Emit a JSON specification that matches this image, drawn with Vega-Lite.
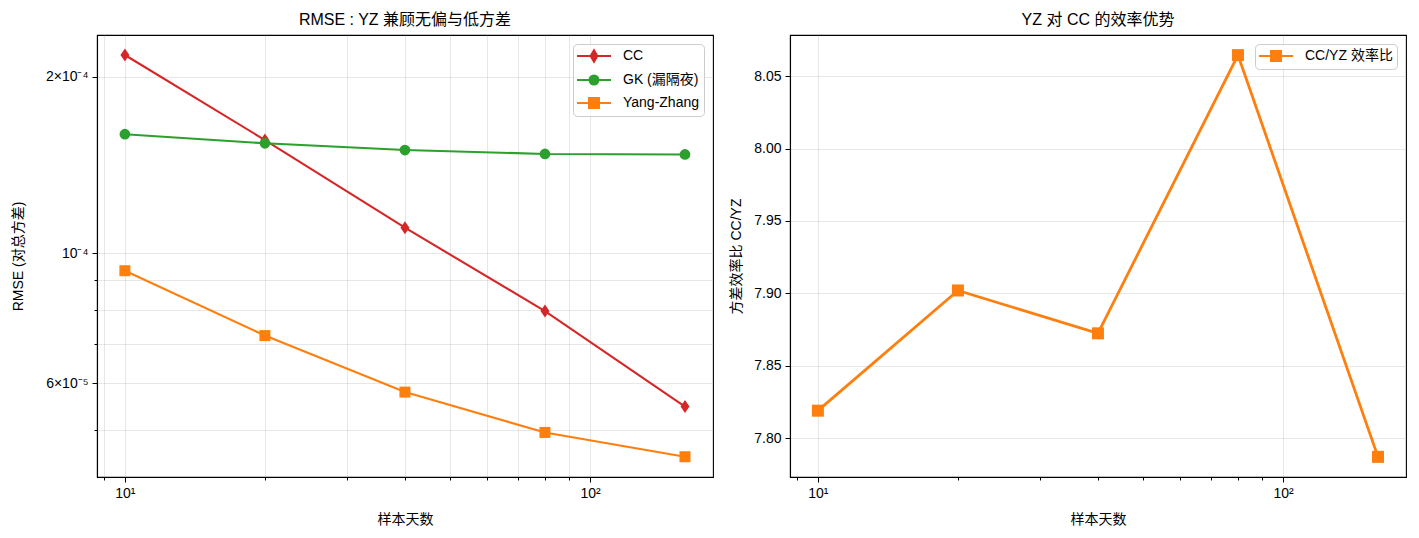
{
  "$schema": "https://vega.github.io/schema/vega-lite/v6.json",
  "background": "white",
  "padding": {"left": 10, "top": 11, "right": 5, "bottom": 5},
  "datasets": {
    "rmse": [
      {"n": 10, "method": "CC", "rmse": 0.0002178},
      {"n": 20, "method": "CC", "rmse": 0.000156},
      {"n": 40, "method": "CC", "rmse": 0.0001106},
      {"n": 80, "method": "CC", "rmse": 0.0000797},
      {"n": 160, "method": "CC", "rmse": 0.0000548},
      {"n": 10, "method": "GK (漏隔夜)", "rmse": 0.0001596},
      {"n": 20, "method": "GK (漏隔夜)", "rmse": 0.000154},
      {"n": 40, "method": "GK (漏隔夜)", "rmse": 0.00015},
      {"n": 80, "method": "GK (漏隔夜)", "rmse": 0.0001477},
      {"n": 160, "method": "GK (漏隔夜)", "rmse": 0.0001474},
      {"n": 10, "method": "Yang-Zhang", "rmse": 0.0000934},
      {"n": 20, "method": "Yang-Zhang", "rmse": 0.0000724},
      {"n": 40, "method": "Yang-Zhang", "rmse": 0.000058},
      {"n": 80, "method": "Yang-Zhang", "rmse": 0.0000495},
      {"n": 160, "method": "Yang-Zhang", "rmse": 0.000045}
    ],
    "ratio": [
      {"n": 10, "series": "CC/YZ 效率比", "ratio": 7.819},
      {"n": 20, "series": "CC/YZ 效率比", "ratio": 7.902},
      {"n": 40, "series": "CC/YZ 效率比", "ratio": 7.8724},
      {"n": 80, "series": "CC/YZ 效率比", "ratio": 8.0645},
      {"n": 160, "series": "CC/YZ 效率比", "ratio": 7.7871}
    ]
  },
  "spacing": 14,
  "hconcat": [
    {
      "width": 616,
      "height": 442,
      "title": {"text": "RMSE : YZ 兼顾无偏与低方差"},
      "data": {"name": "rmse"},
      "layer": [
        {
          "transform": [{"filter": "datum.method == 'CC'"}],
          "mark": {"type": "line", "strokeWidth": 2.1, "color": "#d62728"},
          "encoding": {
            "x": {"field": "n", "type": "quantitative",
              "scale": {"type": "log", "domain": [8.71, 183.8], "nice": false},
              "axis": {"orient": "bottom", "values": [10, 100], "labelExpr": "datum.value < 50 ? '10¹' : '10²'", "title": "样本天数", "grid": true, "tickSize": 5, "labelPadding": 4, "titlePadding": 12}},
            "y": {"field": "rmse", "type": "quantitative",
              "scale": {"type": "log", "domain": [0.00004156, 0.0002356], "nice": false},
              "axis": {"orient": "left", "values": [0.0001, 0.0002, 0.00006], "labelExpr": "datum.value > 0.00015 ? '2×10⁻⁴' : datum.value > 0.00008 ? '10⁻⁴' : '6×10⁻⁵'", "title": "RMSE (对总方差)", "grid": true, "tickSize": 5, "labelPadding": 4, "minExtent": 62, "titlePadding": 10}}
          }
        },
        {
          "transform": [{"filter": "datum.method == 'GK (漏隔夜)'"}],
          "mark": {"type": "line", "strokeWidth": 2.1, "color": "#2ca02c"},
          "encoding": {
            "x": {"field": "n", "type": "quantitative", "axis": null},
            "y": {"field": "rmse", "type": "quantitative", "axis": null}
          }
        },
        {
          "transform": [{"filter": "datum.method == 'Yang-Zhang'"}],
          "mark": {"type": "line", "strokeWidth": 2.1, "color": "#ff7f0e"},
          "encoding": {
            "x": {"field": "n", "type": "quantitative", "axis": null},
            "y": {"field": "rmse", "type": "quantitative", "axis": null}
          }
        },
        {
          "transform": [{"filter": "datum.method == 'CC'"}],
          "mark": {"type": "point", "filled": true, "opacity": 1, "size": 169, "shape": "M0,-1L0.69,0L0,1L-0.69,0Z", "color": "#d62728"},
          "encoding": {
            "x": {"field": "n", "type": "quantitative",
              "axis": {"orient": "bottom", "values": [9, 20, 30, 40, 50, 60, 70, 80, 90], "labels": false, "title": null, "grid": true, "tickSize": 3, "domain": false}},
            "y": {"field": "rmse", "type": "quantitative",
              "axis": {"orient": "left", "values": [0.00005, 0.00007, 0.00008, 0.00009], "labels": false, "title": null, "grid": true, "tickSize": 3, "domain": false}}
          }
        },
        {
          "transform": [{"filter": "datum.method == 'GK (漏隔夜)'"}],
          "mark": {"type": "point", "filled": true, "opacity": 1, "size": 115, "shape": "circle", "color": "#2ca02c"},
          "encoding": {
            "x": {"field": "n", "type": "quantitative", "axis": null},
            "y": {"field": "rmse", "type": "quantitative", "axis": null}
          }
        },
        {
          "transform": [{"filter": "datum.method == 'Yang-Zhang'"}],
          "mark": {"type": "point", "filled": true, "opacity": 1, "size": 121, "shape": "square", "color": "#ff7f0e"},
          "encoding": {
            "x": {"field": "n", "type": "quantitative", "axis": null},
            "y": {"field": "rmse", "type": "quantitative", "axis": null}
          }
        },
        {
          "transform": [{"filter": "false"}],
          "mark": {"type": "point", "filled": true, "opacity": 1, "strokeWidth": 2},
          "encoding": {
            "x": {"field": "n", "type": "quantitative", "axis": null},
            "y": {"field": "rmse", "type": "quantitative", "axis": null},
            "color": {"field": "method", "type": "nominal",
              "scale": {"domain": ["CC", "GK (漏隔夜)", "Yang-Zhang"], "range": ["#d62728", "#2ca02c", "#ff7f0e"]},
              "legend": {"title": null}},
            "stroke": {"field": "method", "type": "nominal",
              "scale": {"domain": ["CC", "GK (漏隔夜)", "Yang-Zhang"], "range": ["#d62728", "#2ca02c", "#ff7f0e"]},
              "legend": {"title": null}},
            "shape": {"field": "method", "type": "nominal",
              "scale": {"domain": ["CC", "GK (漏隔夜)", "Yang-Zhang"],
                "range": ["M-1.143,0H3.714M1.286,-0.82L1.766,0L1.286,0.82L0.806,0Z",
                          "M-1.143,0H3.714M0.64,0A0.646,0.646,0,1,0,1.932,0A0.646,0.646,0,1,0,0.64,0Z",
                          "M-1.143,0H3.714M0.572,-0.714H2V0.714H0.572Z"]},
              "legend": {"title": null}}
          }
        }
      ],
      "resolve": {"axis": {"x": "independent", "y": "independent"}}
    },
    {
      "width": 616,
      "height": 442,
      "title": {"text": "YZ 对 CC 的效率优势"},
      "data": {"name": "ratio"},
      "layer": [
        {
          "mark": {"type": "line", "strokeWidth": 2.8, "color": "#ff7f0e"},
          "encoding": {
            "x": {"field": "n", "type": "quantitative",
              "scale": {"type": "log", "domain": [8.71, 183.8], "nice": false},
              "axis": {"orient": "bottom", "values": [10, 100], "labelExpr": "datum.value < 50 ? '10¹' : '10²'", "title": "样本天数", "grid": true, "tickSize": 5, "labelPadding": 4, "titlePadding": 12}},
            "y": {"field": "ratio", "type": "quantitative",
              "scale": {"domain": [7.7732, 8.0784], "nice": false, "zero": false},
              "axis": {"orient": "left", "values": [7.8, 7.85, 7.9, 7.95, 8.0, 8.05], "format": ".2f", "title": "方差效率比 CC/YZ", "grid": true, "tickSize": 5, "labelPadding": 4, "minExtent": 40, "titlePadding": 7}}
          }
        },
        {
          "mark": {"type": "point", "filled": true, "opacity": 1, "size": 144, "shape": "square", "color": "#ff7f0e"},
          "encoding": {
            "x": {"field": "n", "type": "quantitative",
              "axis": {"orient": "bottom", "values": [9, 20, 30, 40, 50, 60, 70, 80, 90], "labels": false, "title": null, "grid": false, "tickSize": 3, "domain": false}},
            "y": {"field": "ratio", "type": "quantitative", "axis": null}
          }
        },
        {
          "transform": [{"filter": "false"}],
          "mark": {"type": "point", "filled": true, "opacity": 1, "strokeWidth": 2.8},
          "encoding": {
            "x": {"field": "n", "type": "quantitative", "axis": null},
            "y": {"field": "ratio", "type": "quantitative", "axis": null},
            "color": {"field": "series", "type": "nominal",
              "scale": {"domain": ["CC/YZ 效率比"], "range": ["#ff7f0e"]},
              "legend": {"title": null}},
            "stroke": {"field": "series", "type": "nominal",
              "scale": {"domain": ["CC/YZ 效率比"], "range": ["#ff7f0e"]},
              "legend": {"title": null}},
            "shape": {"field": "series", "type": "nominal",
              "scale": {"domain": ["CC/YZ 效率比"], "range": ["M-1.143,0H3.714M0.572,-0.714H2V0.714H0.572Z"]},
              "legend": {"title": null}}
          }
        }
      ],
      "resolve": {"axis": {"x": "independent", "y": "independent"}}
    }
  ],
  "resolve": {"scale": {"color": "independent", "stroke": "independent", "shape": "independent", "x": "independent", "y": "independent"}},
  "config": {
    "font": "Liberation Sans, Noto Sans CJK SC, sans-serif",
    "view": {"stroke": "black", "strokeWidth": 1.1},
    "axis": {
      "domainColor": "black", "tickColor": "black", "labelColor": "black", "titleColor": "black",
      "labelFont": "Liberation Sans, Noto Sans CJK SC, sans-serif", "titleFont": "Liberation Sans, Noto Sans CJK SC, sans-serif",
      "labelFontSize": 14, "titleFontSize": 14, "titleFontWeight": "normal",
      "gridColor": "#b0b0b0", "gridOpacity": 0.35, "gridWidth": 0.9, "tickWidth": 1, "domainWidth": 1.1
    },
    "title": {"fontSize": 16, "fontWeight": "normal", "color": "black", "font": "Liberation Sans, Noto Sans CJK SC, sans-serif", "offset": 7},
    "legend": {
      "orient": "top-right", "offset": 9, "padding": 4,
      "fillColor": "rgba(255,255,255,0.8)", "strokeColor": "#cccccc", "cornerRadius": 4,
      "labelFontSize": 14, "labelFont": "Liberation Sans, Noto Sans CJK SC, sans-serif", "labelColor": "black",
      "symbolSize": 196, "symbolStrokeWidth": 2, "labelOffset": 30, "rowPadding": 5
    }
  }
}
